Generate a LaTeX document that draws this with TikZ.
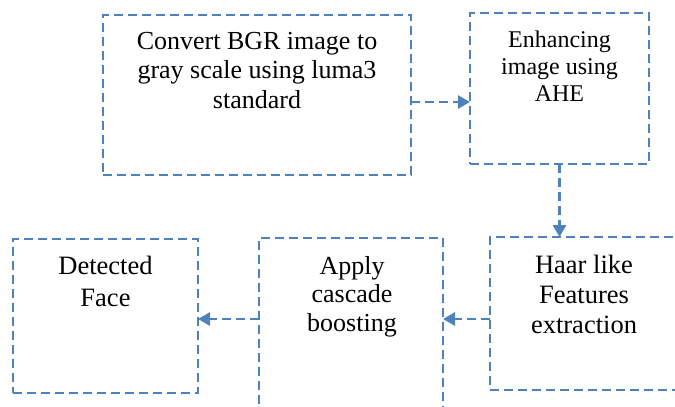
\documentclass[tikz,border=0pt]{standalone}
\usepackage{fontspec}
\setmainfont{Liberation Serif}
\usetikzlibrary{arrows.meta}
\definecolor{boxblue}{HTML}{4F81BD}
\tikzset{
  dbox/.style={draw=boxblue, line width=2.8pt, dash pattern=on 9pt off 5pt, inner sep=0pt, outer sep=0pt},
  lbl/.style={anchor=north, align=center, inner sep=0pt, text=black},
  arr/.style={draw=boxblue, line width=2.8pt, dash pattern=on 9pt off 5pt, -{Triangle[length=12pt,width=13pt]}}
}
\begin{document}
\begin{tikzpicture}[x=1pt,y=-1pt]
\clip (0,0) rectangle (675,407);
\fill[white] (0,0) rectangle (675,407);
% boxes
\node[dbox, minimum width=308pt, minimum height=160pt] (b1) at (257,95) {};
\node[dbox, minimum width=179pt, minimum height=151pt] (b2) at (559.5,88.5) {};
\node[dbox, minimum width=190pt, minimum height=153pt] (b3) at (585,313.5) {};
\node[dbox, minimum width=184pt, minimum height=175pt] (b4) at (351,325.5) {};
\node[dbox, minimum width=185pt, minimum height=154pt] (b5) at (105.5,316) {};
% labels
\node[lbl, font=\fontsize{26}{29.5}\selectfont] (t1) at (257,32) {Convert BGR image to\\gray scale using luma3\\standard};
\node[lbl, font=\fontsize{24}{27}\selectfont] (t2) at (559.5,30.5) {Enhancing\\image using\\AHE};
\node[lbl, font=\fontsize{26.5}{30}\selectfont] (t3) at (584,254.7) {Haar like\\Features\\extraction};
\node[lbl, font=\fontsize{26}{28.5}\selectfont] (t4) at (352,256) {Apply\\cascade\\boosting};
\node[lbl, font=\fontsize{26.5}{32}\selectfont] (t5) at (105.5,255.7) {Detected\\Face};
% arrow levels
\coordinate (y1) at (0,102);
\coordinate (y2) at (0,319);
% arrows
\draw[arr] (b1.east |- y1) -- (b2.west |- y1);
\draw[arr] (b2.south) -- (b2.south |- b3.north);
\draw[arr] (b3.west |- y2) -- (b4.east |- y2);
\draw[arr] (b4.west |- y2) -- (b5.east |- y2);
\end{tikzpicture}
\end{document}
